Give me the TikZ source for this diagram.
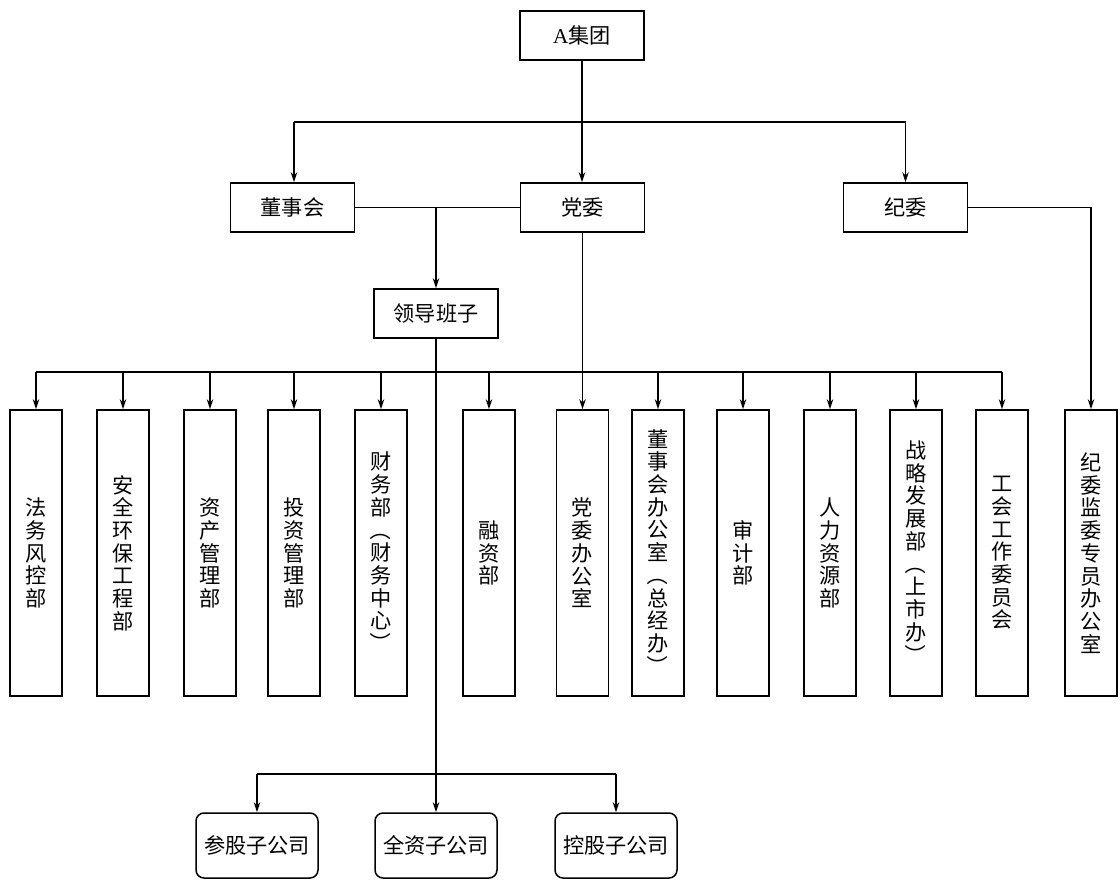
\documentclass[tikz,border=0pt]{standalone}
\usepackage{fontspec}
\setmainfont{Liberation Serif}
\newfontfamily\cjk{Noto Sans CJK SC}
\usetikzlibrary{arrows.meta}
\newcommand{\vlp}{\rotatebox[origin=c]{-90}{（}}
\newcommand{\vrp}{\rotatebox[origin=c]{-90}{）}}
\begin{document}
\begin{tikzpicture}[x=0.5pt,y=-0.5pt,
  line width=0.75pt,
  arr/.style={-{Stealth[length=5pt,width=3.2pt]}},
  txt/.style={font=\cjk\fontsize{10.6}{11.35}\selectfont},
  hbox/.style={txt, draw, minimum width=62pt, minimum height=24.5pt, inner sep=0pt},
  vbox/.style={txt, draw, minimum width=26pt, minimum height=143pt, inner sep=0pt, align=center},
  sbox/.style={txt, draw, rounded corners=4pt, minimum width=61pt, minimum height=32.5pt, inner sep=0pt}]
\useasboundingbox (0,0) rectangle (1120,884);

% top level
\node[hbox] (grp) at (582,35.5) {{\rmfamily A}集团};
\node[hbox] (dsh) at (292.5,207.5) {董事会};
\node[hbox] (dw)  at (582.5,207.5) {党委};
\node[hbox] (jw)  at (905.5,207.5) {纪委};
\node[hbox] (ld)  at (436,313.5) {领导班子};

% departments
\node[vbox] (b1)  at (36,553)   {法\\务\\风\\控\\部};
\node[vbox] (b2)  at (123,553)  {安\\全\\环\\保\\工\\程\\部};
\node[vbox] (b3)  at (210,553)  {资\\产\\管\\理\\部};
\node[vbox] (b4)  at (294,553)  {投\\资\\管\\理\\部};
\node[vbox] (b5)  at (381,553)  {财\\务\\部\\\vlp\\财\\务\\中\\心\\\vrp};
\node[vbox] (b6)  at (489,553)  {融\\资\\部};
\node[vbox] (b7)  at (582.5,553){党\\委\\办\\公\\室};
\node[vbox] (b8)  at (658,553)  {董\\事\\会\\办\\公\\室\\\vlp\\总\\经\\办\\\vrp};
\node[vbox] (b9)  at (743,553)  {审\\计\\部};
\node[vbox] (b10) at (830,553)  {人\\力\\资\\源\\部};
\node[vbox] (b11) at (916,553)  {战\\略\\发\\展\\部\\\vlp\\上\\市\\办\\\vrp};
\node[vbox] (b12) at (1002,553) {工\\会\\工\\作\\委\\员\\会};
\node[vbox] (b13) at (1091,553) {纪\\委\\监\\委\\专\\员\\办\\公\\室};

% subsidiaries
\node[sbox] (s1) at (257,845.5) {参股子公司};
\node[sbox] (s2) at (436,845.5) {全资子公司};
\node[sbox] (s3) at (616,845.5) {控股子公司};

% connectors: top
\coordinate (tl) at (294,122);
\coordinate (tr) at (905.5,122);
\draw (tl) -- (tr);
\draw[arr] (tl) -- (tl |- dsh.north);
\draw[arr] (grp.south) -- (grp.south |- dw.north);
\draw[arr] (tr) -- (tr |- jw.north);

% board and party to leadership
\draw (dsh.east) -- (dw.west);
\coordinate (m) at (436,207.5);
\draw[arr] (m) -- (ld.north);

% department bus
\coordinate (bus) at (0,372);
\draw (b1.north |- bus) -- (b12.north |- bus);
\foreach \i in {1,2,3,4,5,6,8,9,10,11,12}
  \draw[arr] (b\i.north |- bus) -- (b\i.north);
\draw[arr] (dw.south) -- (b7.north);

% discipline committee
\draw[arr] (jw.east) -| (b13.north);

% leadership to subsidiaries
\coordinate (sb) at (0,774);
\draw[arr] (ld.south) -- (s2.north);
\draw (s1.north |- sb) -- (s3.north |- sb);
\draw[arr] (s1.north |- sb) -- (s1.north);
\draw[arr] (s3.north |- sb) -- (s3.north);
\end{tikzpicture}
\end{document}
